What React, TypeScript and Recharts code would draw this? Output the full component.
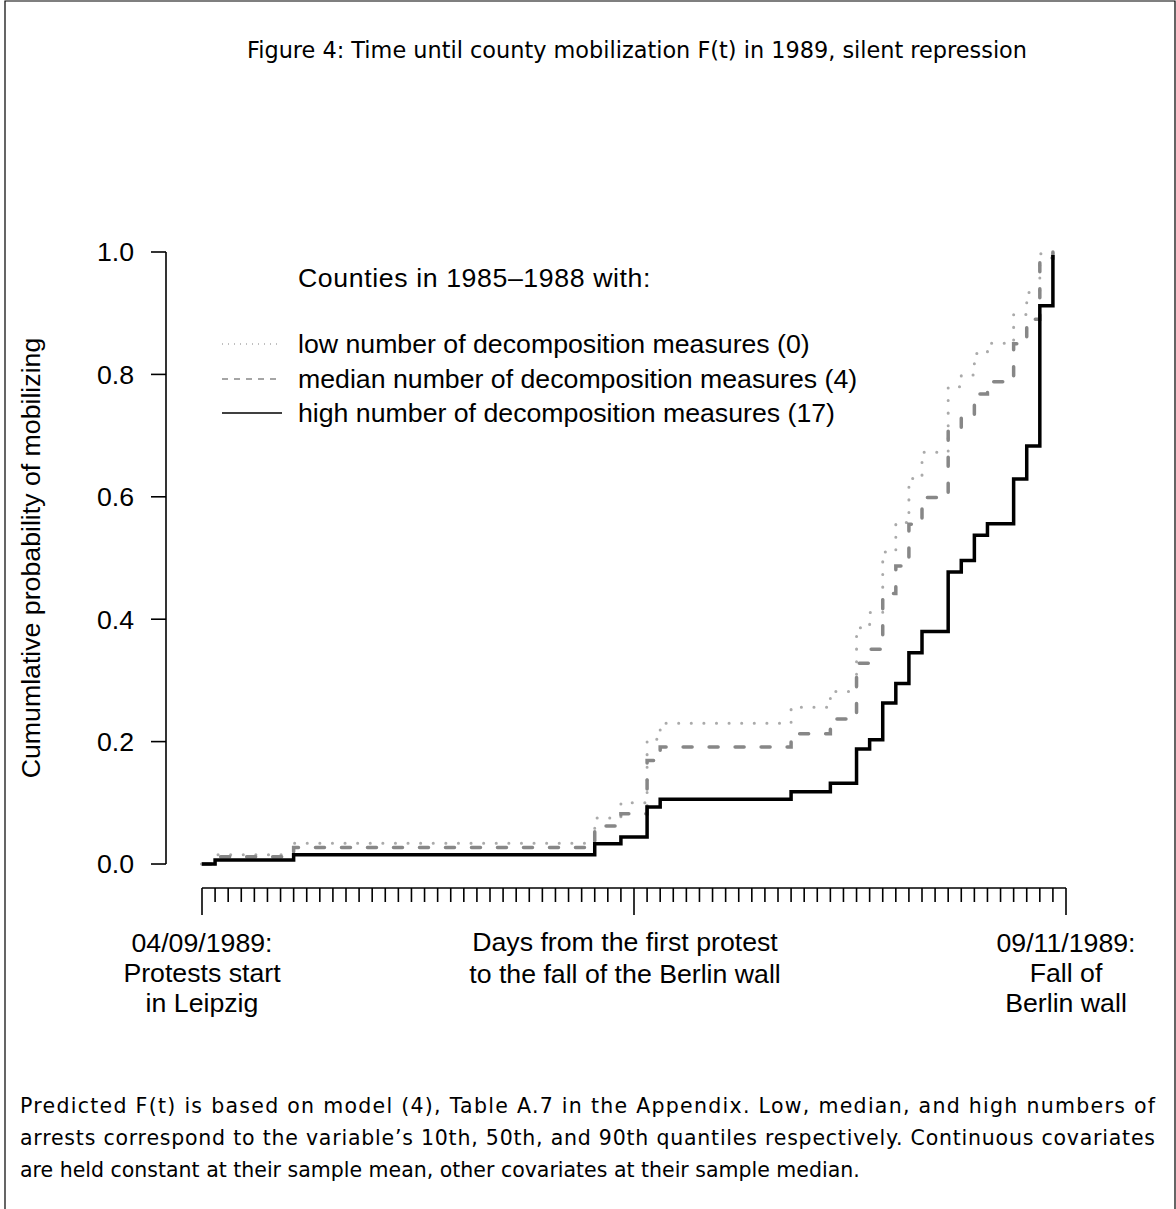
import { LineChart, Line, XAxis, YAxis, ReferenceLine } from 'recharts';

// Predicted F(t) step functions (day of the event, cumulative probability)
const days = [0, 1, 7, 30, 32, 34, 35, 45, 48, 50, 51, 52, 53, 54, 55, 57, 58, 59, 60, 62, 63, 64, 65];
const lowMeasures = [0, 0.015, 0.034, 0.075, 0.1, 0.204, 0.23, 0.256, 0.282, 0.386, 0.411, 0.51, 0.558, 0.63, 0.673, 0.78, 0.799, 0.834, 0.851, 0.898, 0.934, 0.997, 1.0];
const medianMeasures = [0, 0.012, 0.027, 0.062, 0.082, 0.169, 0.191, 0.213, 0.237, 0.328, 0.351, 0.442, 0.487, 0.555, 0.599, 0.709, 0.73, 0.768, 0.788, 0.85, 0.89, 0.99, 1.0];
const highMeasures = [0, 0.0065, 0.015, 0.033, 0.044, 0.093, 0.106, 0.118, 0.132, 0.188, 0.203, 0.263, 0.295, 0.345, 0.38, 0.477, 0.496, 0.537, 0.556, 0.629, 0.683, 0.912, 0.995];

const dayTicks = Array.from({ length: 67 }, (_, i) => i);
const majorTicks = [0, 33, 66];
const probTicks = [0, 0.2, 0.4, 0.6, 0.8, 1];

const legendTitle = 'Counties in 1985\u20131988 with:';
const legendLabels = [
  'low number of decomposition measures (0)',
  'median number of decomposition measures (4)',
  'high number of decomposition measures (17)',
];

const TITLE = 'Figure 4: Time until county mobilization F(t) in 1989, silent repression';
const CAPTION = [
  'Predicted F(t) is based on model (4), Table A.7 in the Appendix. Low, median, and high numbers of',
  'arrests correspond to the variable\u2019s 10th, 50th, and 90th quantiles respectively. Continuous covariates',
  'are held constant at their sample mean, other covariates at their sample median.',
];

// R-style axes sit a little outside the data range
const X_MIN = -2.75;
const Y_MIN = -0.0392;

const W = 1176;
const H = 1209;
const PLOT_FONT = '"Liberation Sans", Arial, sans-serif';
const TEXT_FONT = '"DejaVu Sans", sans-serif';
const PLOT_SIZE = 26.7;

const data = days.map((day, i) => ({
  day,
  low: lowMeasures[i],
  median: medianMeasures[i],
  high: highMeasures[i],
}));

function DayTick({ x, y, payload }: any) {
  const major = majorTicks.includes(payload.value);
  return <line x1={x} x2={x} y1={y} y2={y + (major ? 27 : 14)} stroke="#000" strokeWidth={1.6} />;
}

function Overlay() {
  return (
    <svg width={W} height={H} style={{ position: 'absolute', left: 0, top: 0, pointerEvents: 'none' }}>
      <path d={`M5,${H} L5,1 L${W - 1},1 L${W - 1},${H}`} fill="none" stroke="#000" strokeWidth={1.2} />

      <text x={637} y={58} textAnchor="middle" fontFamily={TEXT_FONT} fontSize={22.4}>
        {TITLE}
      </text>

      {/* legend */}
      <g fontFamily={PLOT_FONT} fontSize={PLOT_SIZE}>
        <text x={298} y={287} letterSpacing={0.6}>{legendTitle}</text>
        <line x1={222} x2={282} y1={344} y2={344} stroke="#aaa" strokeWidth={1.3} strokeDasharray="1 5" />
        <text x={298} y={353}>{legendLabels[0]}</text>
        <line x1={222} x2={282} y1={379} y2={379} stroke="#888" strokeWidth={1.3} strokeDasharray="6 6" />
        <text x={298} y={388}>{legendLabels[1]}</text>
        <line x1={222} x2={282} y1={413} y2={413} stroke="#000" strokeWidth={1.3} />
        <text x={298} y={422}>{legendLabels[2]}</text>
      </g>

      {/* axis titles */}
      <g fontFamily={PLOT_FONT} fontSize={PLOT_SIZE} textAnchor="middle">
        <text transform="translate(40,558) rotate(-90)">Cumumlative probability of mobilizing</text>
        <text x={625} y={951}>Days from the first protest</text>
        <text x={625} y={983}>to the fall of the Berlin wall</text>
        <text x={202} y={952}>04/09/1989:</text>
        <text x={202} y={982}>Protests start</text>
        <text x={202} y={1012}>in Leipzig</text>
        <text x={1066} y={952}>09/11/1989:</text>
        <text x={1066} y={982}>Fall of</text>
        <text x={1066} y={1012}>Berlin wall</text>
      </g>

      <g fontFamily={TEXT_FONT} fontSize={20.5}>
        <text x={20} y={1113} textLength={1135} lengthAdjust="spacing">{CAPTION[0]}</text>
        <text x={20} y={1145} textLength={1135} lengthAdjust="spacing">{CAPTION[1]}</text>
        <text x={20} y={1177}>{CAPTION[2]}</text>
      </g>
    </svg>
  );
}

export default function App() {
  return (
    <div style={{ position: 'absolute', left: 0, top: 0, width: W, height: H, background: '#fff' }}>
      <LineChart width={W} height={H} data={data} margin={{ top: 252, right: 110, bottom: 281, left: 106 }}>
        <XAxis
          type="number"
          dataKey="day"
          domain={[X_MIN, 66]}
          ticks={dayTicks}
          interval={0}
          height={40}
          axisLine={false}
          tickLine={false}
          tickSize={0}
          tickMargin={0}
          tick={<DayTick />}
        />
        <YAxis
          type="number"
          domain={[Y_MIN, 1]}
          ticks={probTicks}
          interval={0}
          width={60}
          axisLine={false}
          tickLine={{ stroke: '#000', strokeWidth: 1.6 }}
          tickSize={15}
          tickMargin={17}
          tickFormatter={(v: number) => v.toFixed(1)}
          tick={{ fill: '#000', fontSize: PLOT_SIZE, fontFamily: PLOT_FONT }}
        />
        <ReferenceLine segment={[{ x: 0, y: Y_MIN }, { x: 66, y: Y_MIN }]} stroke="#000" strokeWidth={1.6} />
        <ReferenceLine segment={[{ x: X_MIN, y: 0 }, { x: X_MIN, y: 1 }]} stroke="#000" strokeWidth={1.6} />
        <Line
          type="stepAfter"
          dataKey="low"
          stroke="#aaaaaa"
          strokeWidth={3}
          strokeDasharray="0.1 12.5"
          strokeLinecap="round"
          dot={false}
          isAnimationActive={false}
        />
        <Line
          type="stepAfter"
          dataKey="median"
          stroke="#878787"
          strokeWidth={3.5}
          strokeDasharray="9 17"
          strokeLinecap="round"
          dot={false}
          isAnimationActive={false}
        />
        <Line
          type="stepAfter"
          dataKey="high"
          stroke="#000"
          strokeWidth={3.5}
          dot={false}
          isAnimationActive={false}
        />
      </LineChart>
      <Overlay />
    </div>
  );
}
